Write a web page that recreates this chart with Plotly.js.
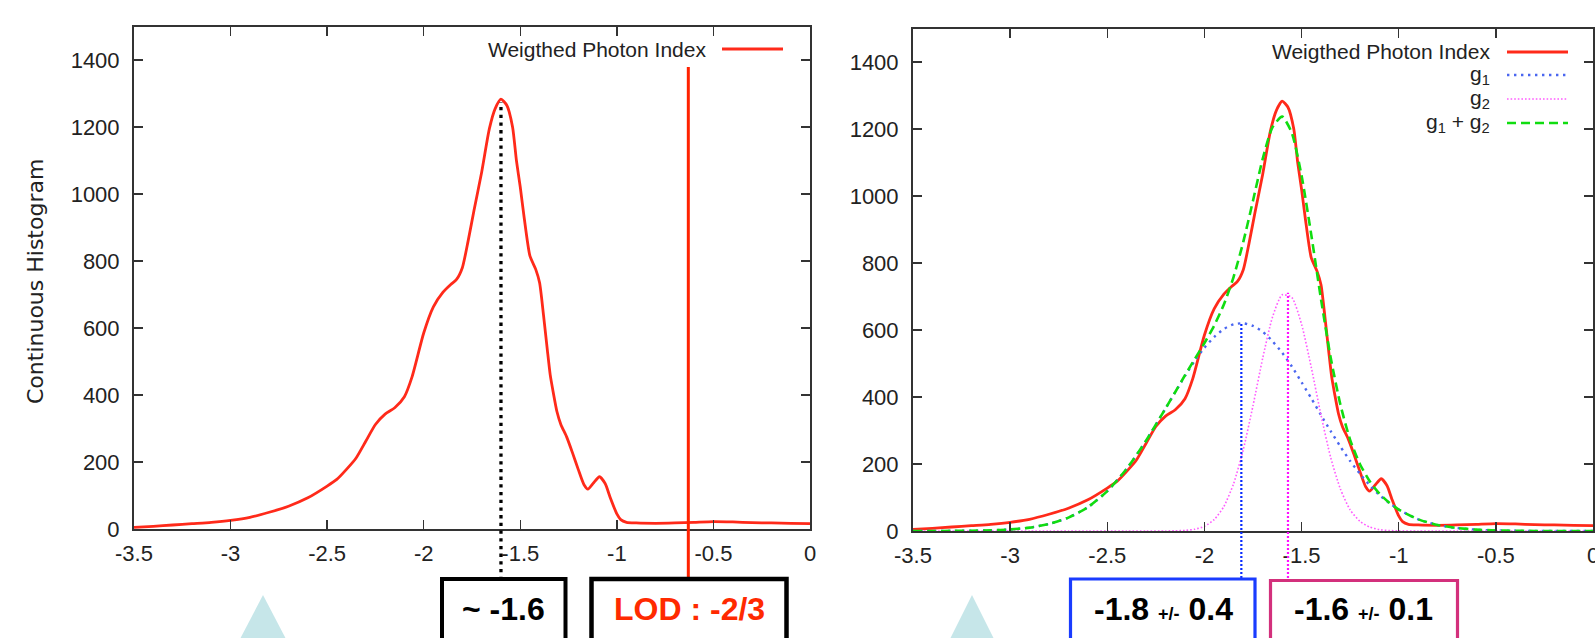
<!DOCTYPE html>
<html>
<head>
<meta charset="utf-8">
<script src="https://cdn.plot.ly/plotly-3.0.1.min.js"></script>
<style>html,body{margin:0;padding:0;background:#fff;}#chart{width:1595px;height:638px;}</style>
</head>
<body>
<div id="chart"></div>
<script>
// ---------- data ----------
var xTickVals = [-3.5, -3, -2.5, -2, -1.5, -1, -0.5, 0];
var xTickText = ["-3.5", "-3", "-2.5", "-2", "-1.5", "-1", "-0.5", "0"];
var yTickVals = [0, 200, 400, 600, 800, 1000, 1200, 1400];
var yTickText = ["0", "200", "400", "600", "800", "1000", "1200", "1400"];

// Weighted photon index (continuous histogram)
var redX = [-3.5,-3.4,-3.3,-3.2,-3.1,-3.0,-2.9,-2.8,-2.7,-2.6,-2.5,-2.45,-2.4,-2.35,-2.3,-2.25,-2.2,-2.15,-2.1,-2.06,-2.0,-1.95,-1.9,-1.86,-1.83,-1.8,-1.77,-1.74,-1.7,-1.66,-1.63,-1.6,-1.57,-1.54,-1.52,-1.5,-1.48,-1.45,-1.42,-1.40,-1.38,-1.36,-1.345,-1.33,-1.31,-1.29,-1.26,-1.23,-1.2,-1.17,-1.15,-1.12,-1.09,-1.06,-1.035,-1.0,-0.98,-0.95,-0.9,-0.8,-0.7,-0.6,-0.5,-0.4,-0.3,-0.2,-0.1,0];
var redY = [5,8,12,16,20,26,35,50,68,93,128,148,178,212,262,312,343,362,395,455,585,663,707,730,745,780,860,950,1065,1195,1255,1283,1265,1200,1100,1020,930,815,775,735,640,535,460,410,350,312,275,228,178,132,119,138,156,135,95,45,28,20,18,17,18,20,22,21,19,18,17,16];

// Gaussian components
var gX   = [-3.5,-3.4,-3.3,-3.2,-3.1,-3.0,-2.9,-2.8,-2.7,-2.6,-2.5,-2.4,-2.3,-2.2,-2.15,-2.1,-2.05,-2.0,-1.95,-1.9,-1.85,-1.8,-1.75,-1.7,-1.65,-1.6,-1.55,-1.5,-1.45,-1.4,-1.35,-1.3,-1.25,-1.2,-1.15,-1.1,-1.05,-1.0,-0.9,-0.8,-0.7,-0.6,-0.5,-0.4,-0.3,-0.2,-0.1,0];
var g1Y  = [0,0.1,0.3,0.8,1.9,4.6,10,21,40,71,119,186,270,366,415,463,508,547,579,603,617,620,612,595,567,532,491,444,396,346,298,252,209,171,137,108,84,64,35,18,8.7,3.9,1.6,0.6,0.2,0.1,0,0];
var g2Y  = [0,0,0,0,0,0,0,0,0,0,0,0,0,0.1,0.5,1.7,5.2,14,34,73,141,243,374,516,638,705,697,617,488,346,219,125,63,29,12,4.2,1.4,0.4,0,0,0,0,0,0,0,0,0,0];
var gSumY= [0,0.1,0.3,0.8,1.9,4.6,10,21,40,71,119,186,270,366,415,465,513,561,613,676,758,863,986,1111,1205,1237,1188,1061,884,692,517,377,272,200,149,112,85,64,35,18,9,4,1.6,0.6,0.2,0.1,0,0];

// marker lines: [x, top value]
var modeLeft   = [-1.6, 1275];
var lodX       = -0.63;
var g1Peak     = [-1.81, 620];
var g2Peak     = [-1.57, 711];

var legendLabels = ["Weigthed Photon Index", "g<sub>1</sub>", "g<sub>2</sub>", "g<sub>1</sub> + g<sub>2</sub>"];
var boxLabels = ["<b>~ -1.6</b>", "<b>LOD : -2/3</b>",
  "<b>-1.8 <span style='font-size:18px'>+/-</span> 0.4</b>",
  "<b>-1.6 <span style='font-size:18px'>+/-</span> 0.1</b>"];
var yTitle = "Continuous Histogram";

// ---------- layout helpers ----------
var W = 1595, H = 638;
function px(x){ return x / W; }
function py(y){ return 1 - y / H; }
var xDom1 = [px(134), px(810)], yDom1 = [py(529), py(26.5)];
var xDom2 = [px(913), px(1593)], yDom2 = [py(531), py(28.5)];
var yMax = 1500;
function yPaper(v, dom){ return dom[0] + v / yMax * (dom[1] - dom[0]); }

var RED = '#ff2a1a';
var FONT = 'Liberation Sans, Arial, Helvetica, sans-serif';

function axisStyle(extra){
  var a = {
    showline: true, linecolor: '#333', linewidth: 2, mirror: 'ticks',
    ticks: 'inside', ticklen: 9, tickwidth: 1.5, tickcolor: '#333',
    showgrid: false, zeroline: false,
    tickfont: {family: FONT, size: 22, color: '#222'},
    ticklabeloverflow: 'allow',
    fixedrange: true
  };
  for (var k in extra) a[k] = extra[k];
  return a;
}

var traces = [
  {x: redX, y: redY, xaxis: 'x', yaxis: 'y', mode: 'lines', line: {color: RED, width: 2.8, shape: 'spline', smoothing: 0.6}},
  {x: redX, y: redY, xaxis: 'x2', yaxis: 'y2', mode: 'lines', line: {color: RED, width: 2.8, shape: 'spline', smoothing: 0.6}},
  {x: gX, y: g1Y, xaxis: 'x2', yaxis: 'y2', mode: 'lines', line: {color: '#4a66f0', width: 2.4, dash: '2.4px,4.6px', shape: 'spline', smoothing: 0.6}},
  {x: gX, y: g2Y, xaxis: 'x2', yaxis: 'y2', mode: 'lines', line: {color: '#ff5cff', width: 1.6, dash: '1.6px,2px', shape: 'spline', smoothing: 0.6}},
  {x: gX, y: gSumY, xaxis: 'x2', yaxis: 'y2', mode: 'lines', line: {color: '#10dd10', width: 2.6, dash: '9px,5px', shape: 'spline', smoothing: 0.6}}
];

var shapes = [];
var annotations = [];

// legends
function legendRow(textX, lineX0, lineX1, yPx, label, lineStyle){
  annotations.push({xref: 'paper', yref: 'paper', x: px(textX), y: py(yPx), xanchor: 'right', yanchor: 'middle',
    text: label, showarrow: false, font: {family: FONT, size: 21, color: '#222'}});
  shapes.push({type: 'line', xref: 'paper', yref: 'paper', x0: px(lineX0), x1: px(lineX1), y0: py(yPx), y1: py(yPx), line: lineStyle});
}
legendRow(708, 722, 783, 49, legendLabels[0], {color: RED, width: 2.8});
legendRow(1492, 1507, 1568, 52, legendLabels[0], {color: RED, width: 2.8});
legendRow(1492, 1507, 1568, 75, legendLabels[1], {color: '#4a66f0', width: 2.4, dash: '2.4px,4.6px'});
legendRow(1492, 1507, 1568, 99, legendLabels[2], {color: '#ff5cff', width: 1.6, dash: '1.6px,2px'});
legendRow(1492, 1507, 1568, 123, legendLabels[3], {color: '#10dd10', width: 2.6, dash: '9px,5px'});

// y title
annotations.push({xref: 'paper', yref: 'paper', x: px(35), y: py(282), xanchor: 'center', yanchor: 'middle', textangle: -90,
  text: yTitle, showarrow: false, font: {family: 'DejaVu Sans, sans-serif', size: 22, color: '#222'}});

// vertical marker lines
shapes.push({type: 'line', xref: 'x', yref: 'paper', x0: modeLeft[0], x1: modeLeft[0], y0: py(580), y1: yPaper(modeLeft[1], yDom1),
  line: {color: '#000', width: 3.3, dash: '3.3px,4.4px'}});
shapes.push({type: 'line', xref: 'x', yref: 'paper', x0: lodX, x1: lodX, y0: py(577), y1: py(67),
  line: {color: '#ff2200', width: 3}});
shapes.push({type: 'line', xref: 'x2', yref: 'paper', x0: g1Peak[0], x1: g1Peak[0], y0: py(578), y1: yPaper(g1Peak[1], yDom2),
  line: {color: '#0a2cff', width: 2.2, dash: '2px,2px'}});
shapes.push({type: 'line', xref: 'x2', yref: 'paper', x0: g2Peak[0], x1: g2Peak[0], y0: py(582), y1: yPaper(g2Peak[1], yDom2),
  line: {color: '#ff10ff', width: 2.2, dash: '2px,2px'}});

// boxes
function box(x0, x1, yTop, color, w){
  shapes.push({type: 'rect', xref: 'paper', yref: 'paper', x0: px(x0), x1: px(x1), y0: py(yTop), y1: py(660), line: {color: color, width: w}, fillcolor: 'rgba(0,0,0,0)'});
}
box(442, 565.5, 579, '#000', 4);
box(591.5, 786.5, 579, '#000', 4.5);
box(1070.5, 1255, 579, '#1a3cff', 3.2);
box(1270.5, 1457.5, 580.5, '#d3307c', 3.2);

function boxText(cx, label, color){
  annotations.push({xref: 'paper', yref: 'paper', x: px(cx), y: py(609), xanchor: 'center', yanchor: 'middle',
    text: label, showarrow: false, font: {family: FONT, size: 32, color: color}});
}
boxText(503.5, boxLabels[0], '#000');
boxText(689.5, boxLabels[1], '#ff2a00');
boxText(1163.5, boxLabels[2], '#000');
boxText(1363.5, boxLabels[3], '#000');

// light-blue triangles
function tri(ax, ay, halfW){
  var path = 'M ' + px(ax) + ' ' + py(ay) + ' L ' + px(ax - halfW) + ' ' + py(ay + 45) + ' L ' + px(ax + halfW) + ' ' + py(ay + 45) + ' Z';
  shapes.push({type: 'path', xref: 'paper', yref: 'paper', path: path, fillcolor: '#c6e6e9', line: {width: 0}});
}
tri(263, 595, 23.5);
tri(972, 595, 22.5);

var layout = {
  width: W, height: H,
  margin: {l: 0, r: 0, t: 0, b: 0, pad: 0},
  paper_bgcolor: '#fff', plot_bgcolor: '#fff',
  showlegend: false,
  xaxis: axisStyle({domain: xDom1, range: [-3.5, 0], anchor: 'y', tickvals: xTickVals, ticktext: xTickText, ticklabelstandoff: 4}),
  yaxis: axisStyle({domain: yDom1, range: [0, yMax], anchor: 'x', tickvals: yTickVals, ticktext: yTickText, ticklabelstandoff: 8}),
  xaxis2: axisStyle({domain: xDom2, range: [-3.5, 0], anchor: 'y2', tickvals: xTickVals, ticktext: xTickText, ticklabelstandoff: 4}),
  yaxis2: axisStyle({domain: yDom2, range: [0, yMax], anchor: 'x2', tickvals: yTickVals, ticktext: yTickText, ticklabelstandoff: 8}),
  shapes: shapes,
  annotations: annotations
};

Plotly.newPlot('chart', traces, layout, {displayModeBar: false, staticPlot: true});
</script>
</body>
</html>
